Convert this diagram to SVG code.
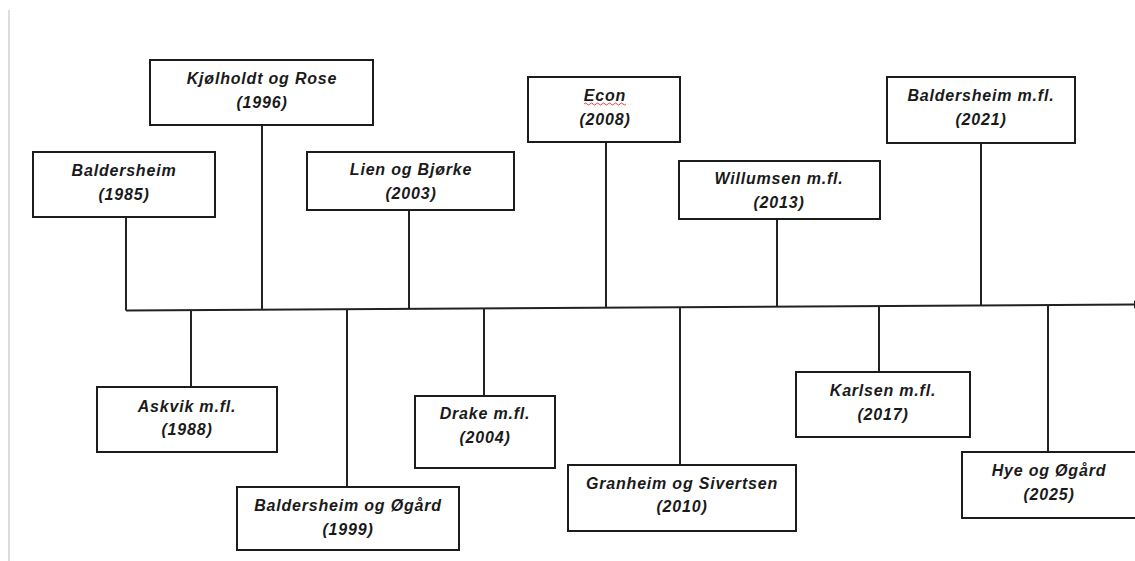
<svg xmlns="http://www.w3.org/2000/svg" width="1135" height="561" viewBox="0 0 1135 561">
<style>
.box{fill:#fff;stroke:#1c1c1c;stroke-width:2}
.lbl{font-family:"Liberation Sans",Arial,sans-serif;font-weight:bold;font-style:italic;font-size:16px;letter-spacing:0.8px;fill:#1a1a1a;text-anchor:middle}
.con{stroke:#222;stroke-width:2;fill:none}
</style>
<defs>
<marker id="arr" markerWidth="10" markerHeight="10" refX="0" refY="5" orient="auto" markerUnits="userSpaceOnUse">
<path d="M0,1 L10,5 L0,9 Z" fill="#222"/>
</marker>
</defs>
<rect width="1135" height="561" fill="#fff"/>
<line x1="9" y1="10" x2="9" y2="561" stroke="#dcdcdc" stroke-width="2"/>
<g id="connectors">
<line class="con" x1="126" y1="310.5" x2="1134" y2="304.5" marker-end="url(#arr)"/>
<line class="con" x1="126" y1="217" x2="126" y2="310.5"/>
<line class="con" x1="262" y1="125" x2="262" y2="309.7"/>
<line class="con" x1="409" y1="210" x2="409" y2="308.8"/>
<line class="con" x1="606" y1="142" x2="606" y2="307.6"/>
<line class="con" x1="777" y1="219" x2="777" y2="306.6"/>
<line class="con" x1="981" y1="143" x2="981" y2="305.4"/>
<line class="con" x1="191" y1="310" x2="191" y2="387"/>
<line class="con" x1="347" y1="309.1" x2="347" y2="487"/>
<line class="con" x1="484" y1="308.3" x2="484" y2="396"/>
<line class="con" x1="680" y1="307.2" x2="680" y2="465"/>
<line class="con" x1="879" y1="306" x2="879" y2="372"/>
<line class="con" x1="1048" y1="305" x2="1048" y2="452"/>
</g>
<g id="n1985"><rect class="box" x="33" y="152" width="182" height="65"/><text class="lbl" x="124" y="176">Baldersheim</text><text class="lbl" x="124" y="200">(1985)</text></g>
<g id="n1996"><rect class="box" x="150" y="60" width="223" height="65"/><text class="lbl" x="262" y="84">Kjølholdt og Rose</text><text class="lbl" x="262" y="108">(1996)</text></g>
<g id="n2003"><rect class="box" x="307" y="152" width="207" height="58"/><text class="lbl" x="411" y="175">Lien og Bjørke</text><text class="lbl" x="411" y="199">(2003)</text></g>
<g id="n2008"><rect class="box" x="528" y="77" width="152" height="65"/><text class="lbl" x="605" y="101">Econ</text><path d="M584,104 q1.5,-2 3,0 t3,0 t3,0 t3,0 t3,0 t3,0 t3,0 t3,0 t3,0 t3,0 t3,0 t3,0 t3,0 t3,0" fill="none" stroke="#e03030" stroke-width="0.9"/><text class="lbl" x="605" y="125">(2008)</text></g>
<g id="n2013"><rect class="box" x="679" y="161" width="201" height="58"/><text class="lbl" x="779" y="184">Willumsen m.fl.</text><text class="lbl" x="779" y="208">(2013)</text></g>
<g id="n2021"><rect class="box" x="887" y="77" width="188" height="66"/><text class="lbl" x="981" y="101">Baldersheim m.fl.</text><text class="lbl" x="981" y="125">(2021)</text></g>
<g id="n1988"><rect class="box" x="97" y="387" width="180" height="65"/><text class="lbl" x="187" y="412">Askvik m.fl.</text><text class="lbl" x="187" y="435">(1988)</text></g>
<g id="n1999"><rect class="box" x="237" y="487" width="222" height="63"/><text class="lbl" x="348" y="511">Baldersheim og Øgård</text><text class="lbl" x="348" y="535">(1999)</text></g>
<g id="n2004"><rect class="box" x="415" y="396" width="140" height="72"/><text class="lbl" x="485" y="419">Drake m.fl.</text><text class="lbl" x="485" y="443">(2004)</text></g>
<g id="n2010"><rect class="box" x="568" y="465" width="228" height="66"/><text class="lbl" x="682" y="489">Granheim og Sivertsen</text><text class="lbl" x="682" y="512">(2010)</text></g>
<g id="n2017"><rect class="box" x="796" y="372" width="174" height="65"/><text class="lbl" x="883" y="396">Karlsen m.fl.</text><text class="lbl" x="883" y="420">(2017)</text></g>
<g id="n2025"><rect class="box" x="962" y="452" width="175" height="66"/><text class="lbl" x="1049" y="476">Hye og Øgård</text><text class="lbl" x="1049" y="500">(2025)</text></g>
</svg>
